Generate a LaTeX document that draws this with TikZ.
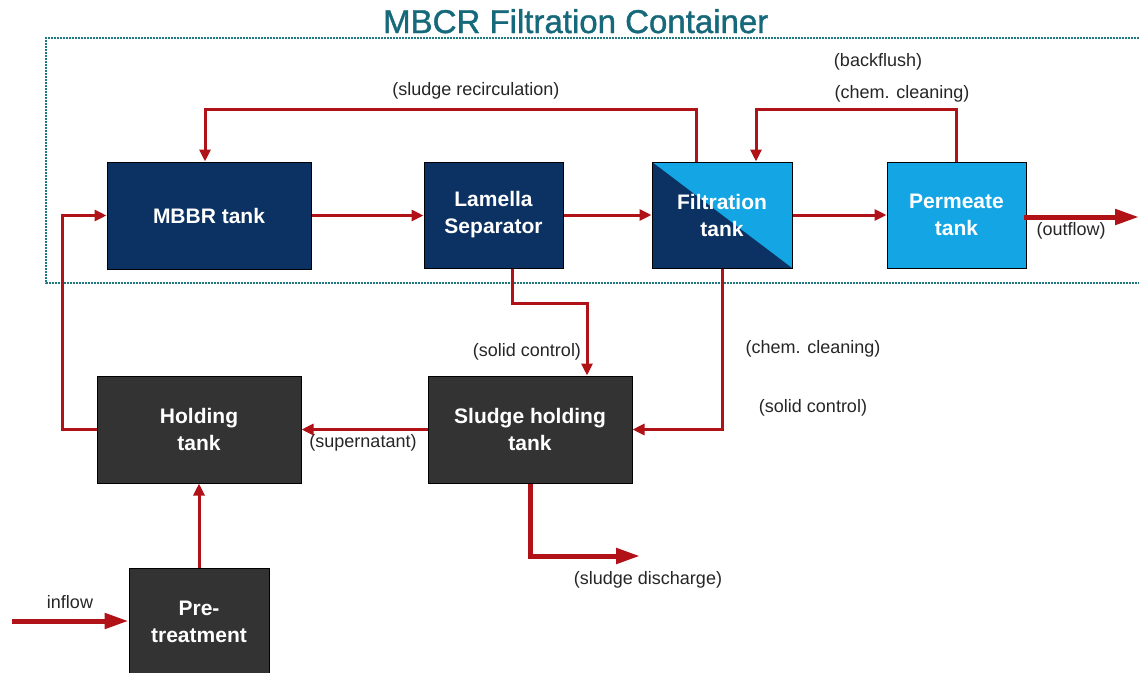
\documentclass[tikz,border=0pt]{standalone}
\usepackage{fontspec}
\setmainfont{Liberation Sans}
\newfontfamily\titlefont[FakeBold=1.2]{Liberation Sans}
\usetikzlibrary{arrows.meta,calc}
\definecolor{navyc}{HTML}{0B3262}
\definecolor{lightc}{HTML}{14A6E4}
\definecolor{greyc}{HTML}{333333}
\definecolor{redc}{HTML}{B01218}
\definecolor{tealc}{HTML}{16697A}
\definecolor{dotc}{HTML}{1F7A80}
\begin{document}
\begin{tikzpicture}[x=1pt,y=-1pt,
  box/.style={draw=black, line width=1pt, text=white, inner sep=0pt,
    font=\fontsize{21}{27}\selectfont\bfseries, align=center},
  wide/.style={box, minimum width=204pt, minimum height=107pt},
  narrow/.style={box, minimum width=139pt, minimum height=106pt},
  lbl/.style={font=\fontsize{18}{22}\selectfont, text=black!85, inner sep=0pt},
  conn/.style={draw=redc, line width=3pt, -{Triangle[length=12pt,width=11pt]}},
  fatconn/.style={draw=redc, line width=5pt, -{Triangle[length=24pt,width=15pt]}},
  containerline/.style={draw=dotc, line width=2.2pt, dash pattern=on 1.6pt off 1.4pt}
]
\useasboundingbox (0,0) rectangle (1139,672);
\fill[white] (0,0) rectangle (1139,672);

% container
\draw[containerline] (1145,38) -- (46,38) -- (46,283) -- (1145,283);
\node[anchor=base west, inner sep=0pt, font=\titlefont\fontsize{33}{36}\selectfont, text=tealc] (title) at (383,33) {MBCR Filtration Container};

% boxes
\node[wide, fill=navyc] (mbbr) at (209,215.5) {MBBR tank};
\node[narrow, fill=navyc] (lam) at (493.5,215) {Lamella\\Separator};
\node[narrow, minimum width=140pt, fill=lightc,
  path picture={\fill[navyc] (path picture bounding box.north west) -- (path picture bounding box.south east) -- (path picture bounding box.south west) -- cycle;}] (filt) at (722,215) {Filtration\\tank};
\node[narrow, fill=lightc] (perm) at (956.5,215) {Permeate\\tank};
\node[wide, fill=greyc] (hold) at (199,429.5) {Holding\\tank};
\node[wide, fill=greyc] (sludge) at (530,429.5) {Sludge holding\\tank};
\node[box, fill=greyc, minimum width=140pt, minimum height=108pt] (pre) at (199,622) {Pre-\\treatment};

% free ends
\coordinate (outend) at (1139,217);
\coordinate (instart) at (12,621);
\coordinate (disend) at (640,556);

% connectors
\draw[conn] (mbbr.east) -- (mbbr.east -| lam.west);
\draw[conn] (lam.east) -- (lam.east -| filt.west);
\draw[conn] (filt.east) -- (filt.east -| perm.west);
\draw[fatconn] (perm.east) -- (perm.east |- outend) -- (outend);
\draw[conn] ([xshift=-26pt]filt.north) -- ++(0,-52) -| ([xshift=-4pt]mbbr.north);
\draw[conn] (perm.north) -- ++(0,-52) -| ([xshift=34pt]filt.north);
\draw[conn] ([xshift=18.5pt]lam.south) -- ++(0,35) -| ([xshift=57pt]sludge.north);
\draw[conn] (filt.south) |- (sludge.east);
\draw[conn] (sludge.west) -- (hold.east);
\draw[conn] (hold.west) -- ++(-34,0) |- (mbbr.west);
\draw[conn] (pre.north) -- (hold.south);
\draw[fatconn] (instart) -- (instart -| pre.west);
\draw[fatconn] (sludge.south) |- (disend);

% labels
\node[lbl] (l1) at (476,91) {(sludge recirculation)};
\node[lbl] (l2) at (878,62) {(backflush)};
\node[lbl] (l3) at (902,94) {(chem. cleaning)};
\node[lbl] (l4) at (1071,231) {(outflow)};
\node[lbl] (l5) at (527,352) {(solid control)};
\node[lbl] (l6) at (813,349) {(chem. cleaning)};
\node[lbl] (l7) at (813,408) {(solid control)};
\node[lbl] (l8) at (363,443) {(supernatant)};
\node[lbl] (l9) at (648,580) {(sludge discharge)};
\node[lbl] (l10) at (70,602) {inflow};
\end{tikzpicture}
\end{document}
